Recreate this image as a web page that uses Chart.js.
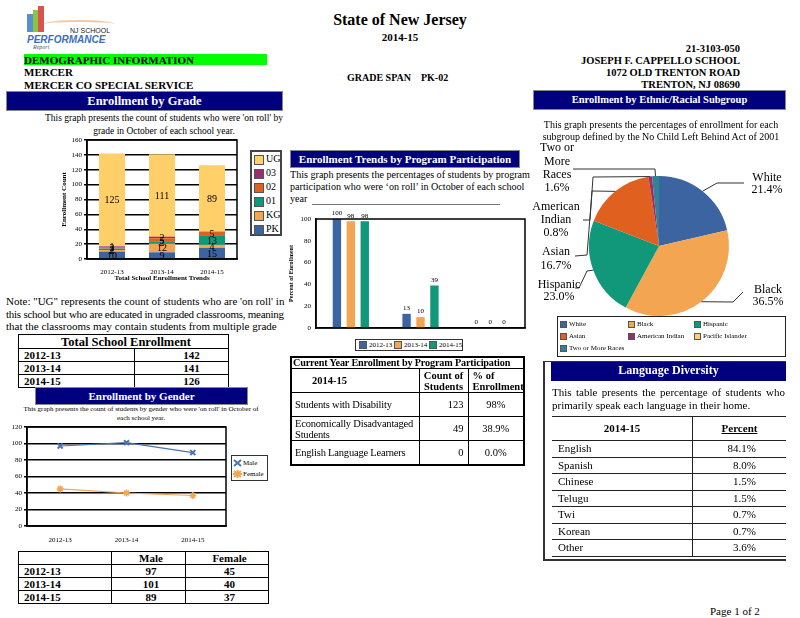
<!DOCTYPE html>
<html>
<head>
<meta charset="utf-8">
<script src="https://cdn.jsdelivr.net/npm/chart.js@4.4.0/dist/chart.umd.min.js"></script>
<style>
body { margin: 0; width: 800px; height: 618px; position: relative; overflow: hidden; background: #fff;
       font-family: "Liberation Serif", "Times New Roman", serif; color: #000; }
.abs { position: absolute; white-space: nowrap; }
.b { font-weight: bold; }
.navy { position: absolute; background: #00007f; color: #fff; font-weight: bold; text-align: center;
        box-sizing: border-box; border: 1px solid #888; }
canvas { position: absolute; }
table { position: absolute; border-collapse: collapse; }
.t td { border: 1.5px solid #000; padding: 0 0 0 5px; height: 12px; line-height: 12px; font-size: 11px; font-weight: bold; }
.legend { position: absolute; box-sizing: border-box; border: 1px solid #333; background: #fff; font-size: 7px; }
.legend .it { position: absolute; white-space: nowrap; line-height: 8px; }
.legend .sw { display: inline-block; vertical-align: middle; margin-right: 2px; border: 1px solid #555; box-sizing: border-box; }
.pt { table-layout: fixed; }
.pt td { border: 1.5px solid #000; font-size: 10.5px; padding: 0 4px; line-height: 11px; overflow: hidden; }
.lt td { border-top: 1.5px solid #222; border-bottom: 1.5px solid #222; font-size: 11px; padding: 0; height: 15px; line-height: 15px; }
</style>
</head>
<body>

<!-- logo -->
<div class="abs" style="left:27px;top:14px;width:6px;height:18px;background:#5a8fd0"></div>
<div class="abs" style="left:33px;top:10px;width:5px;height:22px;background:#8cc63f"></div>
<div class="abs" style="left:38px;top:6px;width:6px;height:26px;background:#d9534f"></div>
<div class="abs" style="left:44px;top:20px;width:70px;height:6px;border-top:2px solid #f3c9a0;border-radius:60% 60% 0 0"></div>
<div class="abs" style="left:70px;top:27px;font:7px 'Liberation Sans',sans-serif;color:#222">NJ SCHOOL</div>
<div class="abs" style="left:27px;top:34px;font:bold italic 10px 'Liberation Sans',sans-serif;color:#3a6fc0">PERFORMANCE</div>
<div class="abs" style="left:33px;top:44px;font:italic 6px 'Liberation Serif',serif;color:#557">Report</div>

<!-- header -->
<div class="abs b" style="left:0;width:800px;text-align:center;top:11px;font-size:16px">State of New Jersey</div>
<div class="abs b" style="left:0;width:800px;text-align:center;top:31px;font-size:11px">2014-15</div>
<div class="abs b" style="left:24px;top:54px;width:243px;height:11px;background:#00ff00;font-size:11px;line-height:12px">DEMOGRAPHIC INFORMATION</div>
<div class="abs b" style="left:24px;top:66px;font-size:11px">MERCER</div>
<div class="abs b" style="left:24px;top:79px;font-size:11px">MERCER CO SPECIAL SERVICE</div>
<div class="abs b" style="left:347px;top:72px;font-size:10px">GRADE SPAN &nbsp;&nbsp;&nbsp;PK-02</div>
<div class="abs b" style="right:60px;top:43px;font-size:10.5px;text-align:right">21-3103-050</div>
<div class="abs b" style="right:60px;top:55px;font-size:10.5px">JOSEPH F. CAPPELLO SCHOOL</div>
<div class="abs b" style="right:60px;top:67px;font-size:10.5px">1072 OLD TRENTON ROAD</div>
<div class="abs b" style="right:60px;top:79px;font-size:10.5px">TRENTON, NJ 08690</div>

<!-- left column -->
<div class="navy" style="left:6px;top:91px;width:277px;height:20px;font-size:12.5px;line-height:18px">Enrollment by Grade</div>
<div class="abs" style="left:24px;width:280px;text-align:center;top:112px;font-size:9.5px;line-height:12.5px">This graph presents the count of students who were 'on roll' by<br>grade in October of each school year.</div>
<canvas id="gradeChart" width="182" height="150" style="left:60px;top:132px"></canvas>
<div id="gradeLegend" class="legend" style="left:250px;top:150px;width:32px;height:86px;border:2px solid #444"></div>

<div class="abs" style="left:6px;top:295px;font-size:11px;line-height:12.5px">Note: "UG" represents the count of students who are 'on roll' in<br><span style="letter-spacing:-0.25px">this school but who are educated in ungraded classrooms, meaning</span><br>that the classrooms may contain students from multiple grade</div>
<table class="t" id="totalTable" style="left:18px;top:334px;width:211px"></table>

<div class="navy" style="left:35px;top:387px;width:213px;height:18px;font-size:11px;line-height:16px">Enrollment by Gender</div>
<div class="abs" style="left:0;width:282px;text-align:center;top:405px;font-size:7px;line-height:9px">This graph presents the count of students by gender who were 'on roll' in October of<br>each school year.</div>
<canvas id="genderChart" width="232" height="122" style="left:0;top:420px"></canvas>
<div id="genderLegend" class="legend" style="left:231px;top:455px;width:37px;height:26px"></div>
<table class="t" id="genderTable" style="left:18px;top:551px;width:251px"></table>

<!-- middle column -->
<div class="navy" style="left:290px;top:150px;width:230px;height:18px;font-size:11px;line-height:16px">Enrollment Trends by Program Participation</div>
<div class="abs" style="left:290px;top:169px;font-size:10.1px;line-height:12px">This graph presents the percentages of students by program<br>participation who were ‘on roll’ in October of each school<br>year</div>
<div class="abs" style="left:312px;top:204px;width:188px;height:1px;background:#777"></div>
<canvas id="programChart" width="242" height="131" style="left:288px;top:207px"></canvas>
<div id="programLegend" class="legend" style="left:355px;top:339px;width:108px;height:12px"></div>
<table class="pt" id="programTable" style="left:290px;top:356px;width:235px;border:2px solid #000"></table>

<!-- right column -->
<div class="navy" style="left:533px;top:90px;width:253px;height:20px;font-size:10.5px;line-height:18px">Enrollment by Ethnic/Racial Subgroup</div>
<div class="abs" style="left:530px;width:262px;text-align:center;top:119px;font-size:10px;line-height:12px">This graph presents the percentages of enrollment for each<br>subgroup defined by the No Child Left Behind Act of 2001</div>
<canvas id="ethnicChart" width="280" height="220" style="left:519px;top:136px"></canvas>
<div id="ethnicLegend" class="legend" style="left:557px;top:316px;width:229px;height:41px;border:1.5px solid #222"></div>

<div style="position:absolute;left:543px;top:361px;width:243px;height:200px;border-left:2px solid #333;border-bottom:2px solid #333;border-top:1px solid #333;box-sizing:border-box"></div>
<div class="navy" style="left:551px;top:362px;width:235px;height:19px;font-size:12px;line-height:17px;border:none">Language Diversity</div>
<div class="abs" style="left:552px;top:386px;width:233px;font-size:11px;line-height:12.5px;white-space:normal;text-align:justify;text-align-last:left">This table presents the percentage of students who primarily speak each language in their home.</div>
<table class="lt" id="langTable" style="left:552px;top:416px;width:234px"></table>

<div class="abs" style="left:710px;top:605px;font-size:11px">Page 1 of 2</div>

<script>
// ---- data ----
const schoolYears = ['2012-13', '2013-14', '2014-15'];

const gradeNames = ['PK', 'KG', '01', '02', '03', 'UG'];
const gradePK = [10, 9, 15];
const gradeKG = [2, 12, 4];
const grade01 = [2, 2, 13];
const grade02 = [2, 5, 5];
const grade03 = [1, 2, 0];
const gradeUG = [125, 111, 89];
const gradeTicks = [0, 20, 40, 60, 80, 100, 120, 140, 160];
const totalEnrollment = [142, 141, 126];

const genderNames = ['Male', 'Female'];
const maleCounts = [97, 101, 89];
const femaleCounts = [45, 40, 37];

const programCats = ['DISABILITY', 'ECONDIS', 'LEP'];
const program1213 = [100, 13, 0];
const program1314 = [98, 10, 0];
const program1415 = [98, 39, 0];
const programRows = ['Students with Disability', 'Economically Disadvantaged Students', 'English Language Learners'];
const programCounts = [123, 49, 0];
const programPct = ['98%', '38.9%', '0.0%'];

const ethnicNames = ['White', 'Black', 'Hispanic', 'Asian', 'American Indian', 'Pacific Islander', 'Two or More Races'];
const ethnicPct = [21.4, 36.5, 23.0, 16.7, 0.8, 0, 1.6];

const languages = ['English', 'Spanish', 'Chinese', 'Telugu', 'Twi', 'Korean', 'Other'];
const languagePct = ['84.1%', '8.0%', '1.5%', '1.5%', '0.7%', '0.7%', '3.6%'];

// ---- colours ----
const blue = '#3c64a0', lightOrange = '#f3a552', green = '#11977a', red = '#e0601f',
      magenta = '#a1296d', yellow = '#ffcf6a', teal = '#2f8394';
const gradeColors = [blue, lightOrange, green, red, magenta, yellow];
const yearColors = [blue, lightOrange, green];
const ethnicColors = [blue, lightOrange, green, red, magenta, yellow, teal];

Chart.defaults.font.family = '"Liberation Serif", "Times New Roman", serif';
Chart.defaults.color = '#000';
Chart.defaults.animation = false;
Chart.defaults.plugins.legend.display = false;
Chart.defaults.plugins.tooltip.enabled = false;

// black box round the plot area
const frameBox = {
    id: 'frameBox',
    afterDraw(chart) {
        const { ctx, chartArea: a } = chart;
        ctx.save();
        ctx.strokeStyle = '#000';
        ctx.lineWidth = 1.5;
        ctx.strokeRect(a.left, a.top, a.right - a.left, a.bottom - a.top);
        ctx.restore();
    }
};

// --- Enrollment by Grade ---
const gradeSeries = [gradePK, gradeKG, grade01, grade02, grade03, gradeUG];
const stackLabels = {
    id: 'stackLabels',
    afterDatasetsDraw(chart) {
        const ctx = chart.ctx;
        ctx.save();
        ctx.font = '10px "Liberation Serif"';
        ctx.textAlign = 'center';
        ctx.textBaseline = 'middle';
        ctx.fillStyle = '#000';
        chart.data.datasets.forEach((ds, i) => {
            chart.getDatasetMeta(i).data.forEach((bar, j) => {
                if (!ds.data[j]) return;
                ctx.fillText(ds.data[j], bar.x, (bar.y + bar.base) / 2 + 1);
            });
        });
        ctx.restore();
    }
};
new Chart(document.getElementById('gradeChart'), {
    type: 'bar',
    data: {
        labels: schoolYears,
        datasets: gradeNames.map((n, i) => ({
            label: n, data: gradeSeries[i], backgroundColor: gradeColors[i],
            categoryPercentage: 0.8, barPercentage: 0.65
        }))
    },
    options: {
        responsive: false,
        layout: { padding: { top: 8, right: 5 } },
        scales: {
            x: {
                stacked: true,
                grid: { display: false },
                border: { color: '#000', width: 1.5 },
                ticks: { font: { size: 7 }, padding: 1 },
                title: { display: true, text: 'Total School Enrollment Trends', font: { size: 7, weight: 'bold' }, padding: 0 },
                afterFit: s => { s.height = 23; }
            },
            y: {
                stacked: true, min: 0, max: 160,
                afterBuildTicks: s => { s.ticks = gradeTicks.map(v => ({ value: v })); },
                grid: { color: '#000', lineWidth: 1.5, tickLength: 3, tickColor: '#000' },
                border: { color: '#000', width: 1.5 },
                ticks: { font: { size: 7 }, padding: 2 },
                title: { display: true, text: 'Enrollment Count', font: { size: 7, weight: 'bold' }, padding: 0 },
                afterFit: s => { s.width = 27; }
            }
        }
    },
    plugins: [frameBox, stackLabels]
});

// --- Enrollment by Gender ---
new Chart(document.getElementById('genderChart'), {
    type: 'line',
    data: {
        labels: schoolYears,
        datasets: [
            { label: genderNames[0], data: maleCounts, borderColor: '#4a74b0', backgroundColor: '#4a74b0',
              pointStyle: 'crossRot', pointRadius: 3.5, pointBorderWidth: 2, borderWidth: 1.2 },
            { label: genderNames[1], data: femaleCounts, borderColor: lightOrange, backgroundColor: lightOrange,
              pointStyle: 'star', pointRadius: 3.5, pointBorderWidth: 1.5, borderWidth: 1.2 }
        ]
    },
    options: {
        responsive: false,
        layout: { padding: { top: 7, right: 6 } },
        scales: {
            x: {
                offset: true,
                grid: { display: false },
                border: { color: '#000', width: 1.5 },
                ticks: { font: { size: 7 }, padding: 2 },
                afterFit: s => { s.height = 16; }
            },
            y: {
                min: 0, max: 120,
                ticks: { stepSize: 20, font: { size: 7 }, padding: 2 },
                grid: { color: '#000', lineWidth: 1.5, tickLength: 3, tickColor: '#000' },
                border: { color: '#000', width: 1.5 },
                afterFit: s => { s.width = 27; }
            }
        }
    },
    plugins: [frameBox]
});

// --- Program Participation ---
const programSeries = [program1213, program1314, program1415];
const topLabels = {
    id: 'topLabels',
    afterDatasetsDraw(chart) {
        const ctx = chart.ctx;
        ctx.save();
        ctx.font = '7px "Liberation Serif"';
        ctx.textAlign = 'center';
        ctx.textBaseline = 'bottom';
        ctx.fillStyle = '#000';
        chart.data.datasets.forEach((ds, i) => {
            chart.getDatasetMeta(i).data.forEach((bar, j) => {
                ctx.fillText(ds.data[j], bar.x, bar.y - 2);
            });
        });
        ctx.restore();
    }
};
new Chart(document.getElementById('programChart'), {
    type: 'bar',
    data: {
        labels: programCats,
        datasets: schoolYears.map((y, i) => ({
            label: y, data: programSeries[i], backgroundColor: yearColors[i],
            categoryPercentage: 0.6, barPercentage: 0.6
        }))
    },
    options: {
        responsive: false,
        layout: { padding: { top: 12, right: 5 } },
        scales: {
            x: {
                grid: { display: false },
                border: { color: '#000', width: 1.5 },
                ticks: { font: { size: 5, weight: 'bold' }, padding: 1 },
                afterFit: s => { s.height = 10; }
            },
            y: {
                min: 0, max: 100,
                ticks: { stepSize: 20, font: { size: 7 }, padding: 2 },
                grid: { display: false, tickLength: 3 },
                border: { color: '#000', width: 1.5 },
                title: { display: true, text: 'Percent of Enrollment', font: { size: 6, weight: 'bold' }, padding: 0 },
                afterFit: s => { s.width = 28; }
            }
        }
    },
    plugins: [frameBox, topLabels]
});

// --- Ethnic / Racial pie ---
// label placement relative to the pie centre: elbow points of the leader line and text centre
const pieLabelLayout = [
    { path: [[58, -63], [85, -63]], cx: 108, ys: [-68, -56], lines: ['White'] },
    { path: [[74, 56], [84, 46]], cx: 109, ys: [44, 56], lines: ['Black'] },
    { path: [[-72, 25], [-80, 42], [-84, 42]], cx: -100, ys: [39, 51], lines: ['Hispanic'] },
    { path: [[-67, -55], [-72, 9], [-84, 10]], cx: -103, ys: [6, 20], lines: ['Asian'] },
    { path: [[-66, -69], [-69, -26], [-76, -26]], cx: -103, ys: [-39, -26, -13], lines: ['American', 'Indian'] },
    null,
    { path: [[-4, -77], [-86, -77]], cx: -102, ys: [-98, -84, -71, -58], lines: ['Two or', 'More', 'Races'] }
];
const pieLabels = {
    id: 'pieLabels',
    afterDraw(chart) {
        const ctx = chart.ctx;
        const values = chart.data.datasets[0].data;
        ctx.save();
        ctx.strokeStyle = '#333';
        ctx.lineWidth = 1;
        ctx.fillStyle = '#000';
        ctx.font = '12px "Liberation Serif"';
        ctx.textAlign = 'center';
        ctx.textBaseline = 'middle';
        chart.getDatasetMeta(0).data.forEach((arc, i) => {
            const lay = pieLabelLayout[i];
            if (!lay || !values[i]) return;
            const p = arc.getProps(['x', 'y', 'startAngle', 'endAngle', 'outerRadius'], true);
            const mid = (p.startAngle + p.endAngle) / 2;
            ctx.beginPath();
            ctx.moveTo(p.x + Math.cos(mid) * p.outerRadius, p.y + Math.sin(mid) * p.outerRadius);
            lay.path.forEach(([dx, dy]) => ctx.lineTo(p.x + dx, p.y + dy));
            ctx.stroke();
            const txt = lay.lines.concat([values[i].toFixed(1) + '%']);
            txt.forEach((t, k) => ctx.fillText(t, p.x + lay.cx, p.y + lay.ys[k]));
        });
        ctx.restore();
    }
};
new Chart(document.getElementById('ethnicChart'), {
    type: 'pie',
    data: {
        labels: ethnicNames,
        datasets: [{ data: ethnicPct, backgroundColor: ethnicColors, borderWidth: 0 }]
    },
    options: {
        responsive: false,
        layout: { padding: { top: 40, bottom: 40, left: 20, right: 20 } }
    },
    plugins: [pieLabels]
});

// ---- legends ----
function addItem(box, x, y, html) {
    const d = document.createElement('div');
    d.className = 'it';
    d.style.left = x + 'px';
    d.style.top = y + 'px';
    d.innerHTML = html;
    box.appendChild(d);
}
const sw = (c, w, h) => `<span class="sw" style="background:${c};width:${w}px;height:${h}px"></span>`;

const gl = document.getElementById('gradeLegend');
gradeNames.slice().reverse().forEach((n, k) => {
    const c = gradeColors[gradeNames.length - 1 - k];
    addItem(gl, 2, 3 + k * 14, sw(c, 10, 10) + `<span style="font-size:10px">${n}</span>`);
});

const xMark = (c, star) => `<svg width="9" height="8" style="vertical-align:middle;margin-right:1px">
  <path d="M1 1L8 7M8 1L1 7${star ? 'M4.5 0L4.5 8M0 4L9 4' : ''}" stroke="${c}" stroke-width="2"/></svg>`;
const genl = document.getElementById('genderLegend');
addItem(genl, 1, 3, xMark('#4a74b0', false) + genderNames[0]);
addItem(genl, 1, 14, xMark(lightOrange, true) + genderNames[1]);

const pl = document.getElementById('programLegend');
schoolYears.forEach((y, i) => addItem(pl, 3 + i * 35, 1, sw(yearColors[i], 8, 8) + y));

const el = document.getElementById('ethnicLegend');
const ethnicCols = [2, 70, 136];
ethnicNames.forEach((n, i) => {
    addItem(el, ethnicCols[i % 3], 3 + Math.floor(i / 3) * 12, sw(ethnicColors[i], 7, 7) + n);
});

// ---- tables ----
let html = '<tr><td colspan="2" style="text-align:center;font-size:12.5px;height:13px">Total School Enrollment</td></tr>';
schoolYears.forEach((y, i) => {
    html += `<tr><td style="width:110px">${y}</td><td style="text-align:center;padding-left:20px">${totalEnrollment[i]}</td></tr>`;
});
document.getElementById('totalTable').innerHTML = html;

html = '<tr><td style="width:87px"></td><td style="text-align:center;width:68px">Male</td><td style="text-align:center">Female</td></tr>';
schoolYears.forEach((y, i) => {
    html += `<tr><td>${y}</td><td style="text-align:center">${maleCounts[i]}</td><td style="text-align:center">${femaleCounts[i]}</td></tr>`;
});
document.getElementById('genderTable').innerHTML = html;

html = '<colgroup><col style="width:128px"><col style="width:49px"><col></colgroup>' +
       '<tr><td colspan="3" style="font-weight:bold;font-size:10.2px;letter-spacing:-0.15px;height:10px;line-height:10px;padding-left:1px;white-space:nowrap">Current Year Enrollment by Program Participation</td></tr>';
html += '<tr style="height:24px"><td style="font-weight:bold;padding-left:20px">2014-15</td>' +
        '<td style="font-weight:bold;text-align:center;padding:0 1px">Count of<br>Students</td>' +
        '<td style="font-weight:bold">% of<br>Enrollment</td></tr>';
programRows.forEach((r, i) => {
    html += `<tr style="height:24px"><td style="white-space:normal;padding-left:3px;letter-spacing:-0.2px">${r}</td><td style="text-align:right">${programCounts[i]}</td><td style="text-align:center">${programPct[i]}</td></tr>`;
});
document.getElementById('programTable').innerHTML = html;

html = '<tr><td style="height:23px;text-align:center;font-weight:bold;width:140px;border-right:1.5px solid #222">2014-15</td>' +
       '<td style="text-align:center;font-weight:bold;text-decoration:underline">Percent</td></tr>';
languages.forEach((l, i) => {
    html += `<tr><td style="padding-left:6px;border-right:1.5px solid #222;height:15.5px">${l}</td><td style="text-align:right;padding-right:30px">${languagePct[i]}</td></tr>`;
});
document.getElementById('langTable').innerHTML = html;
</script>
</body>
</html>
